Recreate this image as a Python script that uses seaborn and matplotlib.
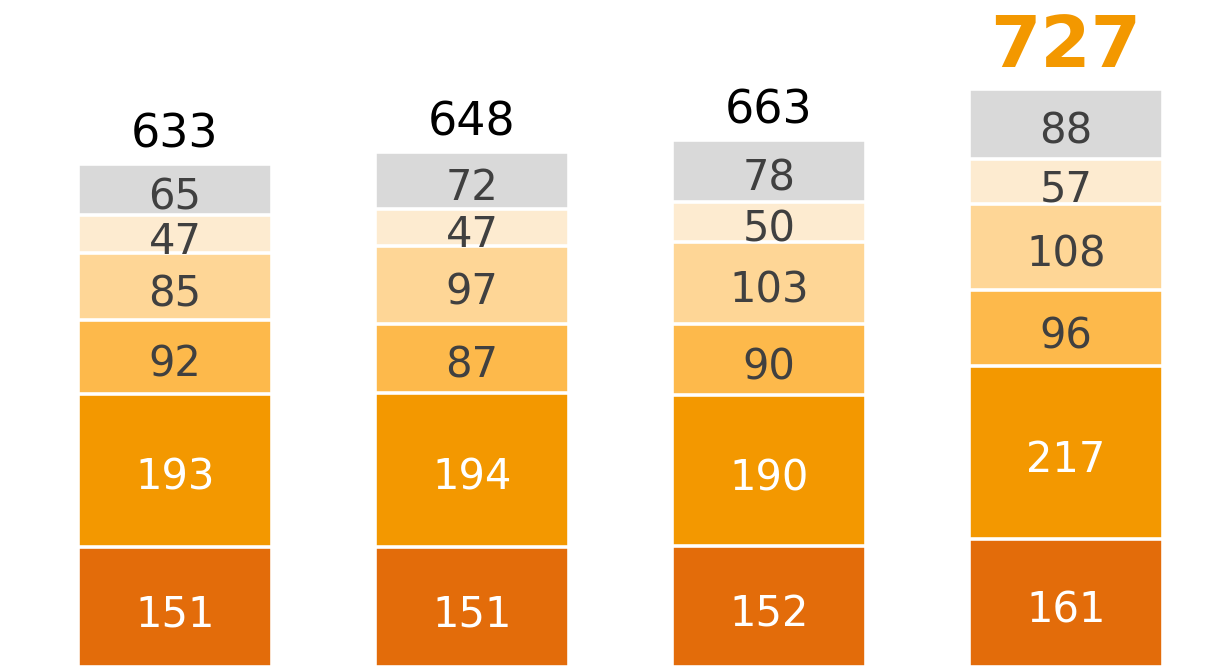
import numpy as np
import pandas as pd
import seaborn as sns
import matplotlib.pyplot as plt

# stacked values, bottom to top
periodos = ["P1", "P2", "P3", "P4"]
seg1 = [151, 151, 152, 161]
seg2 = [193, 194, 190, 217]
seg3 = [92, 87, 90, 96]
seg4 = [85, 97, 103, 108]
seg5 = [47, 47, 50, 57]
seg6 = [65, 72, 78, 88]
totais = [633, 648, 663, 727]

cores = ["#E36C0A", "#F39800", "#FDB94B", "#FED696", "#FDEBD0", "#D9D9D9"]
cor_texto = ["white", "white", "#404040", "#404040", "#404040", "#404040"]

segs = [seg1, seg2, seg3, seg4, seg5, seg6]
df = pd.DataFrame({"periodo": periodos})
cum = np.cumsum(np.array(segs), axis=0)
for i in range(len(segs)):
    df[f"c{i}"] = cum[i]

sns.set_theme(style="white")
fig = plt.figure(figsize=(12.11, 6.67), dpi=100)
ax = fig.add_axes([0, 0, 1, 1])

# draw cumulative bars from top down so each layer covers the one above
for i in reversed(range(len(segs))):
    sns.barplot(data=df, x="periodo", y=f"c{i}", color=cores[i], width=0.653,
                edgecolor="white", linewidth=2.6, saturation=1, ax=ax)

for j in range(len(periodos)):
    base = 0
    for i, s in enumerate(segs):
        ax.text(j, base + s[j] / 2 - 4, str(s[j]), ha="center", va="center_baseline",
                fontsize=30, color=cor_texto[i], family="DejaVu Sans")
        base += s[j]
    if j == len(periodos) - 1:
        ax.text(j, totais[j] + 28, str(totais[j]), ha="center", va="baseline",
                fontsize=52, fontweight="bold", color="#F39800", family="DejaVu Sans")
    else:
        ax.text(j, totais[j] + 21, str(totais[j]), ha="center", va="baseline",
                fontsize=33, color="black", family="DejaVu Sans")

ax.set_xlim(-0.589, 3.488)
ax.set_ylim(0, 839)
ax.axis("off")
fig.savefig("out.png", dpi=100)
